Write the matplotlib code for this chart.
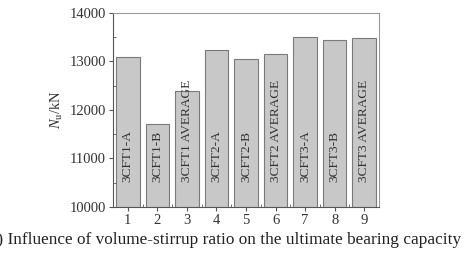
import matplotlib
matplotlib.use("Agg")
import matplotlib.pyplot as plt
from matplotlib.ticker import MultipleLocator

positions = [1, 2, 3, 4, 5, 6, 7, 8, 9]
loads = [13100, 11700, 12400, 13230, 13045, 13145, 13510, 13440, 13475]
bar_labels = ["3CFT1-A", "3CFT1-B", "3CFT1 AVERAGE",
              "3CFT2-A", "3CFT2-B", "3CFT2 AVERAGE",
              "3CFT3-A", "3CFT3-B", "3CFT3 AVERAGE"]
caption = "(c) Influence of volume-stirrup ratio on the ultimate bearing capacity"

plt.rcParams["font.family"] = ["Liberation Serif", "DejaVu Serif"]
plt.rcParams["mathtext.fontset"] = "custom"
plt.rcParams["mathtext.rm"] = "Liberation Serif"
plt.rcParams["mathtext.it"] = "Liberation Serif:italic"

fig = plt.figure(figsize=(4.65, 2.58), dpi=100)
ax = fig.add_axes([0.243, 0.198, 0.572, 0.752])

axis_color = "#555555"
ax.bar(positions, loads, width=0.8, bottom=0, color="#c8c8c8",
       edgecolor="#7a7a7a", linewidth=0.8)

for x, lab in zip(positions, bar_labels):
    ax.text(x, 10520, lab, rotation=90, ha="center", va="bottom",
            fontsize=9.6, color="#333333")

ax.set_xlim(0.5, 9.5)
ax.set_ylim(10000, 14000)
ax.set_xticks(positions)
ax.xaxis.set_minor_locator(MultipleLocator(0.5))
ax.yaxis.set_major_locator(MultipleLocator(1000))
ax.yaxis.set_minor_locator(MultipleLocator(500))

ax.tick_params(which="major", direction="out", length=3, width=0.8,
               color=axis_color, labelsize=10.5, labelcolor="#333333", pad=2)
ax.tick_params(which="minor", direction="in", length=2, width=0.6,
               color=axis_color)
ax.tick_params(top=False, right=False, which="both")
for s in ax.spines.values():
    s.set_color(axis_color)
    s.set_linewidth(0.8)
for s in ["top", "right"]:
    ax.spines[s].set_color("#999999")

ax.set_ylabel(r"$N_{\rm u}$/kN", fontsize=10.5, color="#333333", labelpad=3)

fig.text(461 / 465, 1 - 240 / 258, caption, ha="right", va="center",
         fontsize=12.4, color="#222222")

fig.savefig("out.png", dpi=100)
